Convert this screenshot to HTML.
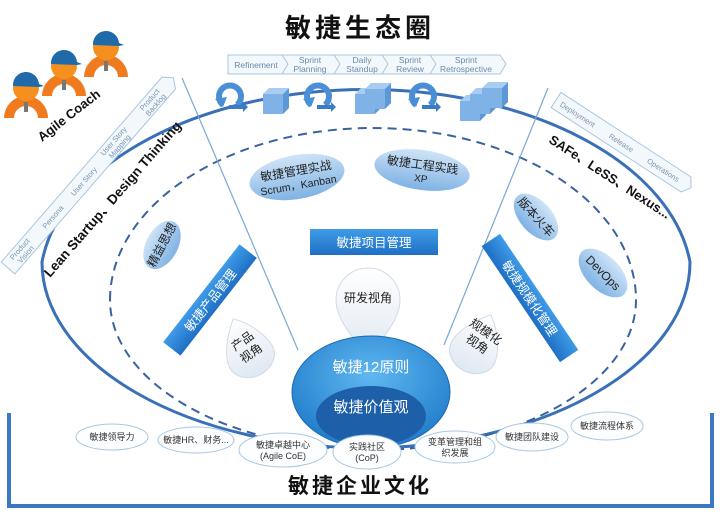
<!DOCTYPE html>
<html><head><meta charset="utf-8"><style>
html,body{margin:0;padding:0;background:#fff;}
svg{display:block;font-family:"Liberation Sans","Noto Sans CJK SC",sans-serif;}
</style></head><body>
<svg width="720" height="512" viewBox="0 0 720 512">
<defs>
<linearGradient id="eg" x1="0" y1="0" x2="0" y2="1"><stop offset="0" stop-color="#cfe4f7"/><stop offset="1" stop-color="#7fb2e4"/></linearGradient>
<linearGradient id="bg" x1="0" y1="0" x2="0" y2="1"><stop offset="0" stop-color="#3f9be8"/><stop offset="1" stop-color="#1f6fc4"/></linearGradient>
<radialGradient id="cg" cx="0.5" cy="0.35" r="0.7"><stop offset="0" stop-color="#5fb8f0"/><stop offset="1" stop-color="#1c77c8"/></radialGradient>
<linearGradient id="tg" x1="0" y1="0" x2="0" y2="1"><stop offset="0" stop-color="#ffffff"/><stop offset="1" stop-color="#dfe8f1"/></linearGradient>
<g id="person">
<path d="M-22 30 A22 22 0 0 1 22 30 L12 30 A12 12 0 0 0 -12 30Z" fill="#f07a1e"/>
<circle cx="0" cy="0" r="13" fill="#f5901f"/>
<path d="M-13 -2 A13 13 0 0 1 13 -4 L18 -2 L13 -1 Z" fill="#1f6aa8"/>
<rect x="-2" y="14" width="4" height="10" fill="#777"/>
</g>
<g id="loop"><path d="M8 20 A11 11 0 1 1 22 20" fill="none" stroke="#4a8fd6" stroke-width="6"/><path d="M0 14 L8 22 L12 12Z" fill="#4a8fd6"/><path d="M14 20 L28 20 L28 17 L33 22 L28 27 L28 24 L14 24Z" fill="#3a7cc4"/></g>
<g id="cube"><path d="M0 6 L6 0 L26 0 L20 6Z" fill="#a9cdf0"/><path d="M20 6 L26 0 L26 20 L20 26Z" fill="#5c98d6"/><rect x="0" y="6" width="20" height="20" fill="#7fb3e8"/></g>
</defs>

<text x="360" y="37" font-size="26" font-weight="bold" text-anchor="middle" fill="#111" letter-spacing="4">敏捷生态圈</text>

<path d="M42 262 A326 194 0 0 1 690 262 A326 186 0 0 1 366 448 A326 186 0 0 1 42 262Z" fill="none" stroke="#3a70b8" stroke-width="3"/>
<path d="M110 300 A263 172 0 0 1 636 300 A263 150 0 0 1 373 450 A263 150 0 0 1 110 300Z" fill="none" stroke="#3a62a0" stroke-width="2" stroke-dasharray="9 6"/>
<line x1="182" y1="78" x2="298" y2="350" stroke="#7aa8d4" stroke-width="1.2"/>
<line x1="548" y1="88" x2="444" y2="345" stroke="#7aa8d4" stroke-width="1.2"/>

<path d="M9 413 L9 506 L712 506 L712 413" fill="none" stroke="#3a78c2" stroke-width="4"/>
<text x="360" y="493" font-size="21" font-weight="bold" text-anchor="middle" fill="#111" letter-spacing="3">敏捷企业文化</text>

<g font-size="8.5" fill="#6a8aa8" text-anchor="middle">
<path d="M228 55 L500 55 L506 64 L500 74 L228 74Z" fill="#f3f8fd" stroke="#a9c6e0"/>
<path d="M282 55 L288 64 L282 74 M334 55 L340 64 L334 74 M382 55 L388 64 L382 74 M430 55 L436 64 L430 74" fill="none" stroke="#a9c6e0"/>
<text x="256" y="68">Refinement</text>
<text x="310" y="63">Sprint</text><text x="310" y="72">Planning</text>
<text x="362" y="63">Daily</text><text x="362" y="72">Standup</text>
<text x="410" y="63">Sprint</text><text x="410" y="72">Review</text>
<text x="466" y="63">Sprint</text><text x="466" y="72">Retrospective</text>
</g>
<use href="#loop" x="215" y="85"/>
<use href="#cube" x="263" y="88"/>
<use href="#loop" x="303" y="85"/>
<use href="#cube" x="355" y="88"/><use href="#cube" x="365" y="83"/>
<use href="#loop" x="408" y="85"/>
<use href="#cube" x="460" y="95"/><use href="#cube" x="470" y="88"/><use href="#cube" x="482" y="82"/>

<use href="#person" x="26" y="88"/>
<use href="#person" x="64" y="66"/>
<use href="#person" x="106" y="47"/>
<text transform="translate(42,142) rotate(-38)" font-size="13" font-weight="bold" fill="#111">Agile Coach</text>

<g transform="translate(8,268) rotate(-49)">
<path d="M0 -9 L245 -9 L252 0 L245 9 L0 9Z" fill="#f3f8fd" stroke="#a9c6e0"/>
<g font-size="7.5" fill="#7c94ab" text-anchor="middle">
<text x="22" y="-1">Product</text><text x="22" y="7">Vision</text>
<text x="68" y="3">Persona</text>
<text x="115" y="3">User Story</text>
<text x="165" y="-1">User Story</text><text x="165" y="7">Mapping</text>
<text x="220" y="-1">Product</text><text x="220" y="7">Backlog</text>
</g>
</g>
<text transform="translate(50,278) rotate(-49)" font-size="13.5" font-weight="bold" fill="#111">Lean Startup、Design Thinking</text>

<g transform="translate(556,100) rotate(33)">
<path d="M0 -9 L155 -9 L161 0 L155 9 L0 9Z" fill="#f3f8fd" stroke="#a9c6e0"/>
<g font-size="7.5" fill="#7c94ab" text-anchor="middle"><text x="26" y="3">Deployment</text><text x="78" y="3">Release</text><text x="128" y="3">Operations</text></g>
</g>
<text transform="translate(548,142) rotate(33)" font-size="13" font-weight="bold" fill="#111">SAFe、LeSS、Nexus...</text>

<g font-size="12" fill="#222" text-anchor="middle">
<g transform="translate(297,177) rotate(-10)"><ellipse rx="48" ry="22" fill="url(#eg)"/><text y="-2">敏捷管理实战</text><text y="12" font-size="10.5">Scrum，Kanban</text></g>
<g transform="translate(422,170) rotate(8)"><ellipse rx="48" ry="20" fill="url(#eg)"/><text y="-1">敏捷工程实践</text><text y="12" font-size="10">XP</text></g>
<g transform="translate(162,245) rotate(-62)"><ellipse rx="26" ry="16" fill="url(#eg)"/><text y="4">精益思想</text></g>
<g transform="translate(536,217) rotate(48)"><ellipse rx="28" ry="16" fill="url(#eg)"/><text y="4">版本火车</text></g>
<g transform="translate(603,273) rotate(45)"><ellipse rx="30" ry="17" fill="url(#eg)"/><text y="4">DevOps</text></g>
</g>

<g font-size="12.5" fill="#fff" text-anchor="middle">
<g transform="translate(374,242)"><rect x="-64" y="-13" width="128" height="26" fill="url(#bg)"/><text y="5">敏捷项目管理</text></g>
<g transform="translate(210,300) rotate(-52)"><rect x="-62" y="-11" width="124" height="22" fill="url(#bg)"/><text y="5">敏捷产品管理</text></g>
<g transform="translate(530,298) rotate(56)"><rect x="-70" y="-11" width="140" height="22" fill="url(#bg)"/><text y="5">敏捷规模化管理</text></g>
</g>

<g font-size="12" fill="#222" text-anchor="middle">
<path d="M368 357 C355 340 336 320 336 300 A32 32 0 0 1 400 300 C400 320 381 340 368 357Z" fill="url(#tg)" stroke="#d0dbe6"/>
<text x="368" y="302">研发视角</text>
<g transform="translate(246,346) rotate(-25)"><path d="M0 -30 C-20 -10 -24 5 -24 12 A24 20 0 0 0 24 12 C24 5 18 -15 0 -30Z" fill="url(#tg)" stroke="#d0dbe6"/></g>
<text transform="translate(246,346) rotate(-35)" y="-2">产品</text><text transform="translate(246,346) rotate(-35)" y="13">视角</text>
<g transform="translate(478,342) rotate(25)"><path d="M0 -30 C-20 -10 -24 5 -24 12 A24 20 0 0 0 24 12 C24 5 18 -15 0 -30Z" fill="url(#tg)" stroke="#d0dbe6"/></g>
<text transform="translate(480,340) rotate(35)" y="-6">规模化</text><text transform="translate(480,340) rotate(35)" y="9">视角</text>
</g>

<ellipse cx="371" cy="392" rx="79" ry="56" fill="url(#cg)" stroke="#1a68b0"/>
<ellipse cx="371" cy="416" rx="55" ry="30" fill="#1d5fa8"/>
<text x="371" y="372" font-size="15" fill="#fff" text-anchor="middle">敏捷12原则</text>
<text x="371" y="412" font-size="15" fill="#fff" text-anchor="middle">敏捷价值观</text>

<g font-size="9" fill="#333" text-anchor="middle">
<g fill="#fdfeff" stroke="#a8c8e4"><ellipse cx="112" cy="437" rx="36" ry="13"/><ellipse cx="196" cy="440" rx="38" ry="13"/><ellipse cx="283" cy="450" rx="44" ry="17"/><ellipse cx="367" cy="452" rx="34" ry="17"/><ellipse cx="455" cy="447" rx="40" ry="16"/><ellipse cx="532" cy="437" rx="36" ry="14"/><ellipse cx="607" cy="426" rx="36" ry="14"/></g>
<text x="112" y="440">敏捷领导力</text>
<text x="196" y="443">敏捷HR、财务...</text>
<text x="283" y="448">敏捷卓越中心</text><text x="283" y="459">(Agile CoE)</text>
<text x="367" y="450">实践社区</text><text x="367" y="461">(CoP)</text>
<text x="455" y="445">变革管理和组</text><text x="455" y="456">织发展</text>
<text x="532" y="440">敏捷团队建设</text>
<text x="607" y="429">敏捷流程体系</text>
</g>
</svg>
</body></html>
